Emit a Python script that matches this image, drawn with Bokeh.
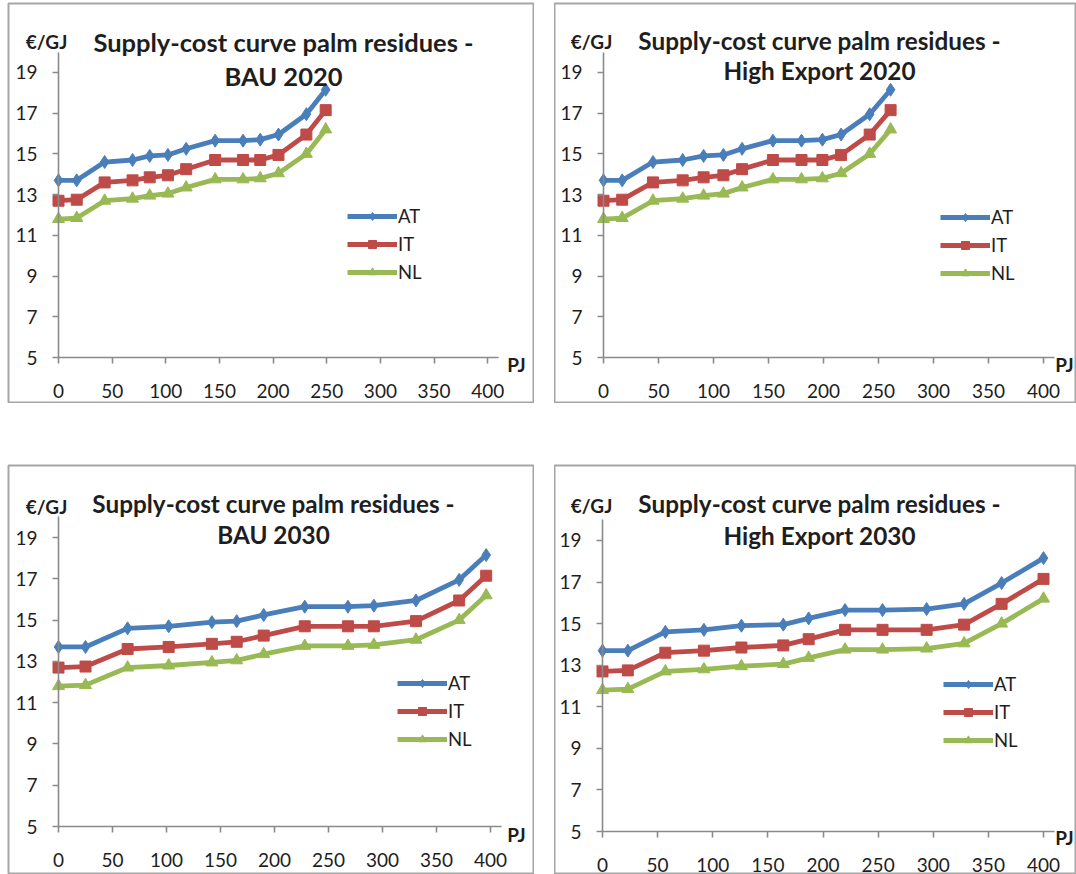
from bokeh.plotting import figure
from bokeh.models import Range1d, FixedTicker, Label, Legend, LegendItem, LinearAxis
from bokeh.layouts import row, column
from bokeh.embed import file_html
from bokeh.resources import INLINE

# ---------------- data ----------------
series_names = ["AT", "IT", "NL"]
cost_AT = [13.7, 13.7, 14.6, 14.7, 14.9, 14.95, 15.25, 15.65, 15.65, 15.7, 15.95, 16.95, 18.15]
cost_IT = [12.7, 12.75, 13.6, 13.7, 13.85, 13.95, 14.25, 14.7, 14.7, 14.7, 14.95, 15.95, 17.15]
cost_NL = [11.8, 11.85, 12.7, 12.8, 12.95, 13.05, 13.35, 13.75, 13.75, 13.8, 14.05, 15.0, 16.2]

pj_bau_2020 = [0, 17, 43, 69, 85, 102, 119, 146, 172, 188, 205, 231, 249]
pj_hx_2020 = [0, 17, 45, 72, 91, 109, 126, 154, 180, 199, 216, 242, 261]
pj_bau_2030 = [0, 25, 64, 102, 142, 165, 190, 228, 268, 292, 331, 371, 396]
pj_hx_2030 = [0, 23, 57, 92, 126, 164, 187, 220, 254, 294, 328, 362, 400]

title_line1 = "Supply-cost curve palm residues -"
title_line2 = ["BAU 2020", "High Export 2020", "BAU 2030", "High Export 2030"]
y_ticks = [5, 7, 9, 11, 13, 15, 17, 19]
x_ticks = [0, 50, 100, 150, 200, 250, 300, 350, 400]
y_bounds = (5, 20)
x_bounds = (0, 410)
y_unit = "€/GJ"
x_unit = "PJ"

# ---------------- style ----------------
COLORS = {"AT": "#4A7EBB", "IT": "#BE4B48", "NL": "#98B954"}
MARKERS = {"AT": ("diamond", 13), "IT": ("square", 11), "NL": ("triangle", 12)}
FONT = "Lato"
TXT = "#1e1e1e"
AXIS = "#8a8a8a"


def panel(xs, sub, spec):
    # spec: canvas geometry in page pixels and where the axes cross
    cx, cy, w, h = spec["canvas"]
    bl, bt, br, bb = spec["border"]
    x0, sx = spec["x0"], spec["sx"]          # page x of PJ=0, px per PJ
    y5, sy = spec["y5"], spec["sy"]          # page y of 5 €/GJ, px per €/GJ
    fl, ft = cx + bl, cy + bt                # frame left / top (page px)
    fw, fh = w - bl - br, h - bt - bb
    xr = Range1d((fl - x0) / sx, (fl + fw - x0) / sx)
    yr = Range1d(5 - (ft + fh - y5) / sy, 5 + (y5 - ft) / sy)

    def X(px):
        return (px - x0) / sx

    def Y(py):
        return 5 + (y5 - py) / sy

    p = figure(width=w, height=h, output_backend="svg", toolbar_location=None,
               x_range=xr, y_range=yr, x_axis_location=None, y_axis_location=None,
               min_border_left=bl, min_border_right=br,
               min_border_top=bt, min_border_bottom=bb)
    p.outline_line_color = "#a6a6a6"
    p.outline_line_width = 2
    p.xgrid.grid_line_color = None
    p.ygrid.grid_line_color = None
    p.background_fill_color = "white"
    p.border_fill_color = "white"

    xa = LinearAxis(fixed_location=5, bounds=x_bounds, ticker=FixedTicker(ticks=x_ticks))
    ya = LinearAxis(fixed_location=0, bounds=y_bounds, ticker=FixedTicker(ticks=y_ticks))
    for ax in (xa, ya):
        ax.axis_line_color = AXIS
        ax.axis_line_width = 1.6
        ax.major_tick_line_color = AXIS
        ax.major_tick_line_width = 1.6
        ax.major_tick_in = 0
        ax.major_tick_out = 6
        ax.minor_tick_line_color = None
        ax.major_label_text_font = FONT
        ax.major_label_text_font_size = "19px"
        ax.major_label_text_color = TXT
    xa.major_label_standoff = 20
    ya.major_label_standoff = 15
    p.add_layout(xa, "below")
    p.add_layout(ya, "left")

    items = []
    for name, ys in (("AT", cost_AT), ("IT", cost_IT), ("NL", cost_NL)):
        c = COLORS[name]
        mk, sz = MARKERS[name]
        r1 = p.line(xs, ys, line_color=c, line_width=4.8)
        r2 = p.scatter(xs, ys, marker=mk, size=sz, fill_color=c, line_color=c)
        items.append(LegendItem(label=name, renderers=[r1, r2]))
    lx, ly = spec["legend"]
    leg = Legend(items=items, location=(lx - fl, ft + fh - ly), glyph_width=50,
                 glyph_height=20, label_height=20, spacing=6, label_standoff=1,
                 padding=0, margin=0, border_line_alpha=0, background_fill_alpha=0,
                 label_text_font=FONT, label_text_font_size="18.5px", label_text_color=TXT)
    p.add_layout(leg)

    tx, ty1, ty2 = spec["title"]
    for txt, ty in ((title_line1, ty1), (sub, ty2)):
        p.add_layout(Label(x=X(tx), y=Y(ty), text=txt, text_align="center",
                           text_baseline="middle", text_font=FONT,
                           text_font_size=spec["tsize"], text_font_style="bold",
                           text_color=TXT))
    for txt, (ux, uy) in ((y_unit, spec["unit"]), (x_unit, spec["pj"])):
        p.add_layout(Label(x=X(ux), y=Y(uy), text=txt, text_align="center",
                           text_baseline="middle", text_font=FONT, text_font_size="19px",
                           text_font_style="bold", text_color=TXT))
    return p


specs = [
    dict(canvas=(0, 0, 534, 403), border=(8, 3, 1, 0), x0=58, sx=1.073, y5=357, sy=20.36,
         legend=(347, 283), title=(283, 41, 75), unit=(46, 41), pj=(516, 364), tsize="25.5px"),
    dict(canvas=(554, 0, 522, 403), border=(0, 3, 0, 0), x0=603, sx=1.10, y5=357, sy=20.36,
         legend=(940, 284), title=(819, 40, 70), unit=(591, 41), pj=(1064, 364), tsize="24.3px"),
    dict(canvas=(0, 462, 534, 412), border=(8, 3, 1, 0), x0=58, sx=1.08, y5=826, sy=20.64,
         legend=(397, 750), title=(273, 503, 534), unit=(46, 506), pj=(516, 834), tsize="24.3px"),
    dict(canvas=(554, 462, 522, 412), border=(0, 3, 0, 0), x0=602, sx=1.1025, y5=831, sy=20.79,
         legend=(943, 751), title=(819, 503, 535), unit=(591, 505), pj=(1064, 837), tsize="24.3px"),
]

pj_series = [pj_bau_2020, pj_hx_2020, pj_bau_2030, pj_hx_2030]
plots = [panel(xs, sub, sp) for xs, sub, sp in zip(pj_series, title_line2, specs)]

layout = column(row(plots[0], plots[1], spacing=20),
                row(plots[2], plots[3], spacing=20), spacing=59)
open("out.html", "w").write(file_html(layout, INLINE))
